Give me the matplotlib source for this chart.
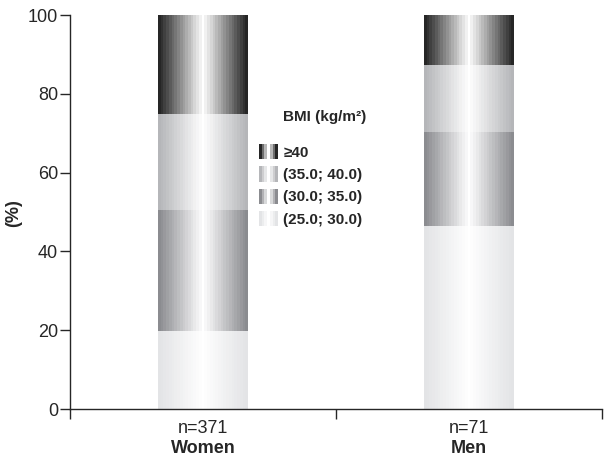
import numpy as np
import matplotlib
matplotlib.use("Agg")
import matplotlib.pyplot as plt
from matplotlib.colors import LinearSegmentedColormap
from matplotlib.legend_handler import HandlerBase
from matplotlib.patches import Rectangle, Patch

plt.rcParams['font.family'] = ['Liberation Sans', 'DejaVu Sans']

# Share of each BMI class (%) per sex, stacked bottom to top
groups = ["Women", "Men"]
sizes = ["n=371", "n=71"]
bmi_classes = ["(25.0; 30.0)", "(30.0; 35.0)", "(35.0; 40.0)", "\u226540"]
women_pct = [19.7, 30.7, 24.5, 25.1]
men_pct = [46.5, 23.9, 16.9, 12.7]
shares = [women_pct, men_pct]

# edge tone of each class, the bars fade to white in the middle
edge_colors = ["#e3e4e6", "#8b8c90", "#b5b6b9", "#262626"]
ink = "#262626"


def band_profile(n_side):
    # stepped cylinder shading: 1 at the edges, 0 in the centre
    left = np.linspace(1.0, 1.0 / n_side, n_side)
    return np.concatenate([left, [0.0], left[::-1]])


def shade_cmap(color):
    return LinearSegmentedColormap.from_list("shade", ["#ffffff", color])


class GradientHandler(HandlerBase):
    def create_artists(self, legend, orig_handle, xdescent, ydescent,
                       width, height, fontsize, trans):
        cmap = shade_cmap(orig_handle.get_facecolor())
        prof = band_profile(3)
        w = width / len(prof)
        arts = []
        for i, v in enumerate(prof):
            r = Rectangle((-xdescent + i * w, -ydescent), w * 1.02, height,
                          facecolor=cmap(v), edgecolor='none', transform=trans)
            arts.append(r)
        return arts


fig = plt.figure(figsize=(6.04, 4.59), dpi=100)
ax = fig.add_axes([70 / 604, 1 - 409 / 459, 532 / 604, 394 / 459])

x = np.arange(len(groups))
bar_w = 0.338
prof = band_profile(16)[None, :]
for gi, vals in enumerate(shares):
    bottom = 0.0
    for ci, v in enumerate(vals):
        bar = ax.bar(x[gi], v, bottom=bottom, width=bar_w,
                     color=edge_colors[ci], linewidth=0)[0]
        x0, y0 = bar.get_x(), bar.get_y()
        ax.imshow(prof, cmap=shade_cmap(edge_colors[ci]), vmin=0, vmax=1,
                  extent=(x0, x0 + bar.get_width(), y0, y0 + bar.get_height()),
                  aspect='auto', interpolation='nearest', clip_path=bar,
                  zorder=2)
        bottom += v

ax.set_xlim(-0.5, 1.5)
ax.set_ylim(0, 100)
ax.set_yticks(np.arange(0, 101, 20))
ax.set_xticks([-0.5, 0.5, 1.5])
ax.set_xticklabels([])
for side in ["top", "right"]:
    ax.spines[side].set_visible(False)
for side in ["left", "bottom"]:
    ax.spines[side].set_color(ink)
    ax.spines[side].set_linewidth(1.0)
    ax.spines[side].set_clip_on(False)
ax.tick_params(axis='both', direction='out', length=7, width=1.0,
               color=ink, labelcolor=ink, labelsize=13, pad=1.5)
ax.set_ylabel("(%)", fontsize=13, fontweight='bold', color=ink)
ax.yaxis.set_label_coords(-0.090, 0.497)

for gi in range(len(groups)):
    ax.annotate(sizes[gi], xy=(x[gi], 0), xycoords=('data', 'axes fraction'),
                xytext=(0, -7.6), textcoords='offset points',
                ha='center', va='top', fontsize=13, color=ink)
    ax.annotate(groups[gi], xy=(x[gi], 0), xycoords=('data', 'axes fraction'),
                xytext=(0, -22.5), textcoords='offset points',
                ha='center', va='top', fontsize=13, fontweight='bold', color=ink)

handles = [Patch(facecolor=edge_colors[i], label=bmi_classes[i])
           for i in range(len(bmi_classes))][::-1]
leg = ax.legend(handles=handles, loc='upper left',
                bbox_to_anchor=(0.355, 0.672), frameon=False, borderpad=0,
                borderaxespad=0, handlelength=1.25, handleheight=1.15,
                handletextpad=0.35, labelspacing=0.42,
                prop={'size': 11, 'weight': 'bold'},
                handler_map={Patch: GradientHandler()})
for t in leg.get_texts():
    t.set_color(ink)
ax.text(0.400, 0.741, "BMI (kg/m\u00b2)", transform=ax.transAxes,
        fontsize=11, fontweight='bold', color=ink, va='center', ha='left')

fig.savefig("out.png", dpi=100)
